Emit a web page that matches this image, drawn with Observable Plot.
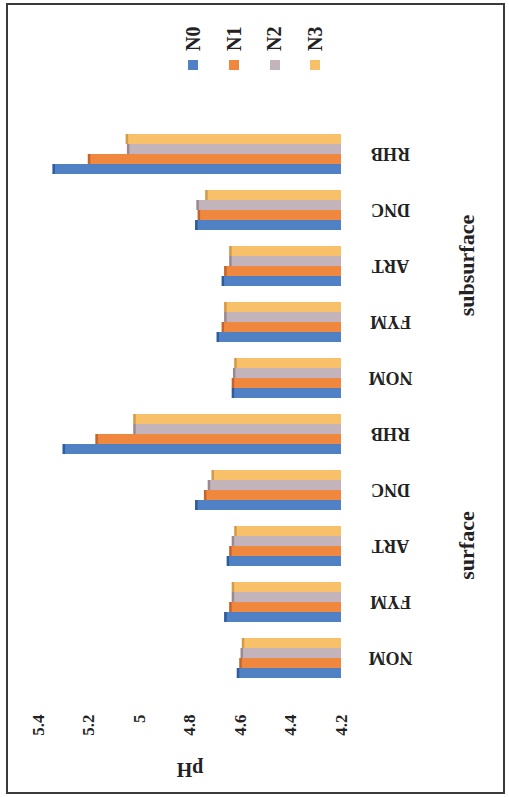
<!DOCTYPE html>
<html>
<head>
<meta charset="utf-8">
<script src="https://cdn.jsdelivr.net/npm/d3@7"></script>
<script src="https://cdn.jsdelivr.net/npm/@observablehq/plot@0.6"></script>
<style>
  html, body { margin: 0; padding: 0; background: #fff; }
  body { width: 509px; height: 797px; overflow: hidden; position: relative; }
  #frame {
    position: absolute; left: 6px; top: 3px; width: 499px; height: 791px;
    border: 2px solid #3a3a3a; box-sizing: border-box;
  }
  /* the chart is laid out landscape and turned a quarter turn counter-clockwise */
  #chart {
    position: absolute; left: 0; top: 0; width: 797px; height: 509px;
    transform-origin: 0 0; transform: translateY(797px) rotate(-90deg);
  }
  #chart svg text { font-weight: bold; }
  #legend { position: absolute; left: 727px; top: 173px; }
  #legend .lg-swatch { height: 40.7px; padding: 0; }
  #legend .lg-swatch svg { margin-right: 9px; }
  #legend .lg-swatch-label {
    font: bold 20px "Liberation Serif", serif; color: #222;
  }
</style>
</head>
<body>
<div id="frame"></div>
<div id="chart"><div id="legend"></div></div>
<script>
// soil layers and fertiliser treatments along the category axis
const layers = ["surface", "subsurface"];
const treatments = ["NOM", "FYM", "ART", "DNC", "RHB"];
// nitrogen levels (series)
const series = ["N0", "N1", "N2", "N3"];
const colors = ["#4f81c4", "#f0873f", "#c3b3ba", "#f8c068"];
const capColors = ["#2d5c9c", "#c4632a", "#9a8990", "#d39a48"];
// pH values, surface NOM..RHB then subsurface NOM..RHB
const N0 = [4.61, 4.66, 4.65, 4.775, 5.30, 4.63, 4.69, 4.67, 4.775, 5.34];
const N1 = [4.60, 4.64, 4.64, 4.74, 5.17, 4.63, 4.67, 4.66, 4.765, 5.20];
const N2 = [4.595, 4.63, 4.63, 4.725, 5.02, 4.625, 4.66, 4.64, 4.77, 5.045];
const N3 = [4.59, 4.63, 4.62, 4.71, 5.02, 4.62, 4.66, 4.64, 4.735, 5.05];
// value axis
const yTicks = [4.2, 4.4, 4.6, 4.8, 5.0, 5.2, 5.4];

const keys = layers.flatMap(l => treatments.map(t => `${l}|${t}`));
const values = {N0, N1, N2, N3};
const rows = series.flatMap(s => keys.map((k, i) => ({key: k, series: s, value: values[s][i]})));
const yBase = yTicks[0];

const chart = Plot.plot({
  width: 797,
  height: 509,
  marginLeft: 110,
  marginRight: 126,
  marginTop: 38,
  marginBottom: 168,
  style: {background: "transparent", fontFamily: "Liberation Serif, serif", color: "#222"},
  fx: {domain: keys, paddingInner: 0, paddingOuter: 0, axis: null, label: null},
  x: {domain: series, paddingInner: 0, paddingOuter: 0.676, axis: null},
  y: {domain: [yTicks[0], yTicks[yTicks.length - 1]], axis: null, label: "pH"},
  color: {domain: series, range: colors},
  marks: [
    Plot.barY(rows, {fx: "key", x: "series", y1: yBase, y2: "value", fill: "series"}),
    Plot.tickY(rows, {
      fx: "key", x: "series", y: "value",
      stroke: d => capColors[series.indexOf(d.series)], strokeWidth: 2.5
    }),
    Plot.axisY({
      ticks: yTicks, tickSize: 0, tickPadding: 29,
      tickFormat: d => String(+d.toFixed(1)),
      fontSize: 17,
      label: "pH", labelArrow: false, labelAnchor: "center", labelOffset: 92
    }),
    Plot.axisFx({
      anchor: "bottom", tickSize: 0, tickPadding: 49, tickRotate: -90,
      textAnchor: "middle", tickFormat: k => k.split("|")[1],
      fontSize: 18, label: null
    }),
    Plot.text(layers, {
      fx: l => `${l}|ART`, text: l => l, frameAnchor: "bottom", dy: 132,
      fontSize: 22
    })
  ]
});
chart.querySelectorAll("[aria-label='y-axis label']").forEach(el => el.setAttribute("font-size", 20));
document.getElementById("chart").prepend(chart);

document.getElementById("legend").append(Plot.legend({
  color: {domain: series, range: colors},
  legend: "swatches",
  columns: 1,
  swatchSize: 10,
  className: "lg"
}));
</script>
</body>
</html>
